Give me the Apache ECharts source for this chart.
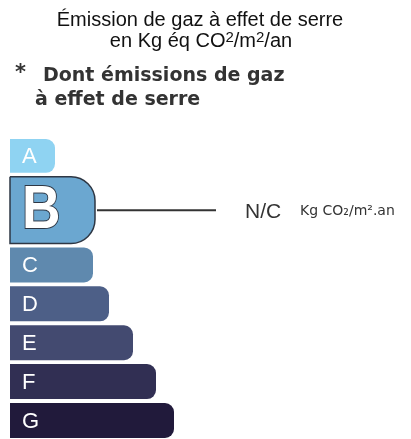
<!DOCTYPE html>
<html>
<head>
<meta charset="utf-8">
<script src="https://cdn.jsdelivr.net/npm/echarts@6/dist/echarts.min.js"></script>
<style>
  html, body { margin: 0; padding: 0; background: #fff; }
  #chart { width: 411px; height: 439px; }
</style>
</head>
<body>
<div id="chart"></div>
<script>
// classes GES
const classes = ['A', 'B', 'C', 'D', 'E', 'F', 'G'];
const barLengths = [45, 85, 83, 99, 123, 146, 164];
const barColors = ['#8fd3f2', '#6ba7d0', '#5f89ae', '#4d5f87', '#434a70', '#312f53', '#211a3b'];
const selectedClass = 'B';
const valueLabel = 'N/C';
const unitLabel = 'Kg CO₂/m².an';

// hauteur de chaque ligne (B est plus grande)
const rowPitch = [0.97, 1.82, 1, 1, 1, 1, 1];
const rowGap = 0.1;
const rowStart = [];
let acc = 0;
rowPitch.forEach(p => { rowStart.push(acc); acc += p; });
const yMax = acc - rowGap;

const chart = echarts.init(document.getElementById('chart'));

function renderItem(params, api) {
  const i = api.value(1);
  const len = api.value(0);
  const y0 = rowStart[i];
  const y1 = y0 + rowPitch[i] - rowGap;
  const p0 = api.coord([0, y0]);
  const p1 = api.coord([len, y1]);
  const w = p1[0] - p0[0];
  const h = p1[1] - p0[1];
  const cy = p0[1] + h / 2;
  const isSel = classes[i] === selectedClass;
  const children = [];
  if (isSel) {
    children.push({
      type: 'rect',
      shape: { x: p0[0], y: p0[1], width: w, height: h, r: [0, 24, 24, 0] },
      style: { fill: barColors[i], stroke: '#2e3744', lineWidth: 1.5 }
    });
    children.push({
      type: 'text',
      x: p0[0] + 12, y: cy + 1,
      scaleX: 0.86,
      style: {
        text: classes[i], x: 0, y: 0,
        font: 'bold 62px "Liberation Sans", Arial, sans-serif',
        fill: '#fff', stroke: '#2e3744', lineWidth: 2,
        verticalAlign: 'middle', align: 'left'
      }
    });
    children.push({
      type: 'line',
      shape: { x1: p1[0] + 2, y1: cy, x2: p1[0] + 121, y2: cy },
      style: { stroke: '#333', lineWidth: 2 }
    });
    children.push({
      type: 'text',
      style: {
        text: valueLabel, x: p1[0] + 150, y: cy + 2,
        font: '21px "Liberation Sans", Arial, sans-serif',
        fill: '#333', verticalAlign: 'middle', align: 'left'
      }
    });
    children.push({
      type: 'text',
      style: {
        text: unitLabel, x: p1[0] + 205, y: cy + 1,
        font: '14px "DejaVu Sans", sans-serif',
        fill: '#333', verticalAlign: 'middle', align: 'left'
      }
    });
  } else {
    children.push({
      type: 'rect',
      shape: { x: p0[0], y: p0[1], width: w, height: h, r: [0, 9, 9, 0] },
      style: { fill: barColors[i] }
    });
    children.push({
      type: 'text',
      style: {
        text: classes[i], x: p0[0] + 12, y: cy + 1,
        font: '22px "Liberation Sans", Arial, sans-serif',
        fill: '#fff', verticalAlign: 'middle', align: 'left'
      }
    });
  }
  return { type: 'group', children: children };
}

const noteFont = 'bold 19px "DejaVu Sans", sans-serif';

const option = {
  animation: false,
  grid: { left: 10, top: 139, width: 400, height: 299 },
  xAxis: { type: 'value', min: 0, max: 400, show: false },
  yAxis: { type: 'value', min: 0, max: yMax, inverse: true, show: false },
  graphic: [
    {
      type: 'text', x: 200, y: 20,
      style: {
        text: 'Émission de gaz à effet de serre',
        font: '20px "Liberation Sans", Arial, sans-serif',
        fill: '#111', align: 'center', verticalAlign: 'middle'
      }
    },
    {
      type: 'text', x: 201, y: 41,
      style: {
        text: 'en Kg éq CO{sup|2}/m{sup|2}/an',
        font: '20px "Liberation Sans", Arial, sans-serif',
        fill: '#111', align: 'center', verticalAlign: 'middle', lineHeight: 22,
        rich: {
          sup: { fontSize: 15, fontFamily: 'Liberation Sans', verticalAlign: 'top', lineHeight: 22, padding: [0, 0, 6, 0] }
        }
      }
    },
    {
      type: 'text', x: 15, y: 74,
      style: { text: '*', font: 'bold 21px "DejaVu Sans", sans-serif', fill: '#333', verticalAlign: 'middle' }
    },
    {
      type: 'text', x: 43, y: 76,
      style: { text: 'Dont émissions de gaz', font: noteFont, fill: '#333', verticalAlign: 'middle' }
    },
    {
      type: 'text', x: 35, y: 100,
      style: { text: 'à effet de serre', font: noteFont, fill: '#333', verticalAlign: 'middle' }
    }
  ],
  series: [{
    type: 'custom',
    renderItem: renderItem,
    encode: { x: 0, y: 1 },
    data: barLengths.map((v, i) => [v, i])
  }]
};
chart.setOption(option);
</script>
</body>
</html>
